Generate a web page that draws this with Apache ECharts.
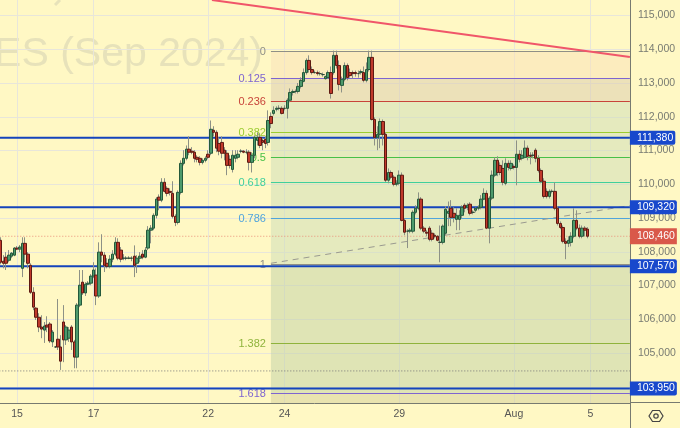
<!DOCTYPE html>
<html>
<head>
<meta charset="utf-8">
<title>RTS futures</title>
<style>
  html, body { margin: 0; padding: 0; background: #fff8c4; }
  #chart { width: 680px; height: 428px; }
</style>
</head>
<body>
<div id="chart"></div>
<script src="https://cdn.jsdelivr.net/npm/echarts@6/dist/echarts.min.js"></script>
<script>
// hourly bars
const barOpen = [
  108340,107720,107840,107750,107870,107900,108110,108080,107510,108250,
  107930,107600,106800,106330,106060,105770,105680,105830,105860,105330,
  105180,105410,105180,105920,105390,105440,105770,105330,104880,106420,
  107100,106780,107040,107070,107280,107310,106690,107990,107900,107660,
  107570,107780,107930,108280,108050,107810,107810,107810,107810,107870,
  107660,107810,107930,107840,108110,108640,108700,109080,109620,109530,
  110060,109880,109790,109730,109050,108870,109760,110620,110770,111040,
  110980,110950,110800,110770,110650,110710,110890,110920,111600,111540,
  111210,111240,111010,110920,110740,110440,110770,110800,110980,110980,
  110950,110950,110650,110860,111300,111390,111300,111330,111240,112010,
  112100,112220,112250,112250,112250,112250,112490,112720,112750,112750,
  112900,113050,113310,113670,113400,113310,113310,113280,113250,113130,
  113160,113310,113310,113820,113520,112930,113110,113520,113310,113310,
  113310,113280,113310,113310,113080,113400,113760,111920,111390,111480,
  111860,111480,110120,110350,110210,110000,110030,110270,108930,108610,
  108610,108610,109170,109290,109560,108700,108580,108700,108550,108490,
  108460,108280,108280,108550,109140,109290,109140,108960,108960,109080,
  109380,109320,109410,109170,109230,109290,109320,109560,109730,108700,
  109590,110270,110710,110560,110470,110030,110620,110470,110530,110500,
  110890,110770,110800,111070,110860,110860,111010,110770,110410,110090,
  109790,109640,109790,109790,109290,108840,108720,108310,108250,108280,
  108460,108930,108700,108460,108700,108670
];
const barClose = [
  107690,107660,107660,107900,107960,108110,108080,108140,108250,107930,
  107660,106800,106360,106060,105770,105710,105800,105770,105360,105620,
  105180,105180,104760,105390,105770,105680,105330,104880,106420,107010,
  106780,107040,107070,107280,107460,106690,107990,107900,107600,107570,
  107780,107930,108280,107810,107780,107810,107810,107810,107810,107600,
  107810,107870,107840,108050,108640,108700,109080,109560,109530,110060,
  109790,109730,109760,109050,108870,109760,110620,110770,111040,110950,
  110950,110770,110740,110650,110710,110770,110800,111630,111540,111070,
  110980,110920,110920,110560,110560,110860,110860,110890,110980,110950,
  110950,110650,110860,111390,111390,111150,111240,111210,111890,111800,
  112190,112250,112250,112100,112250,112490,112720,112750,112750,112900,
  113080,113310,113670,113400,113310,113310,113280,113280,113250,113190,
  113310,112690,113820,113520,112960,113110,113520,113160,113220,113280,
  113280,113280,113340,113080,113400,113760,111920,111390,111480,111860,
  111480,110120,110350,110210,110000,110030,110270,108930,108580,108610,
  108640,109170,109290,109560,108700,108610,108550,108370,108370,108460,
  108340,108280,108760,109260,109200,109020,109020,109080,109080,109320,
  109290,109380,109140,109170,109290,109320,109560,109730,108700,109590,
  110270,110710,110350,110350,110060,110620,110500,110620,110500,110890,
  110740,110860,111070,110830,110830,110860,110770,110410,110090,109640,
  109640,109790,109790,109290,108840,108720,108310,108250,108340,108460,
  108930,108700,108460,108700,108640,108460
];
const barLow = [
  107630,107510,107460,107690,107810,107870,108050,107990,107250,107690,
  107510,106750,106270,105980,105620,105440,105300,105620,105300,105180,
  105150,105090,104500,104730,105240,105330,105090,104550,104550,106360,
  106720,106690,107010,107010,107220,106420,106630,107690,107400,107510,
  107510,107690,107870,107750,107690,107750,107750,107780,107720,107250,
  107370,107690,107780,107810,108050,108250,108640,108990,109230,109470,
  109760,109640,109670,108990,108760,108810,109700,110560,110710,110860,
  110890,110650,110650,110560,110590,110650,110740,110860,111420,110950,
  110860,110770,110710,110270,110470,110350,110650,110740,110920,110920,
  110890,110410,110350,110770,111150,111070,111010,111070,111150,111660,
  112040,112160,112190,112070,112190,111950,112430,112630,112690,112690,
  112840,113020,113250,113310,113250,113280,113220,113220,113190,113100,
  113130,112540,113250,113430,112780,112720,113050,113080,113160,113130,
  113190,113160,113250,113020,113020,113340,111890,111150,111010,111070,
  111150,110060,110030,110150,109940,109940,109970,108900,108490,108110,
  108550,108550,109110,109230,108640,108550,108460,108310,108310,108400,
  108310,107690,108220,108490,108760,108760,108870,108640,108640,108990,
  109170,109230,109080,109110,109170,109230,109260,109530,108670,108250,
  109530,110210,110240,110270,109970,109970,110410,110410,110440,109970,
  110650,110710,110770,110710,110590,110770,110650,110350,110030,109580,
  109580,109580,109730,109230,108780,108670,108250,107780,108140,108160,
  108400,108640,108400,108400,108460,108400
];
const barHigh = [
  108430,107900,107990,108050,107990,108140,108170,108200,108430,108430,
  107990,107660,106950,106360,106180,106120,105920,106090,105920,105680,
  105210,106600,105530,106420,105830,105770,105830,105390,106480,107460,
  107460,107100,107130,107340,107690,107510,108280,108520,107990,107810,
  107900,108050,108430,108400,108140,107930,107870,107870,107870,108190,
  107900,107990,108050,108140,108760,108790,109140,109620,109700,110180,
  110180,109940,109880,110090,109110,109820,110710,111010,111150,111420,
  111100,111010,110860,110830,110770,110830,111010,111890,111720,111600,
  111390,111420,111100,111010,110860,111010,111010,111010,111040,111010,
  111040,111010,110950,111450,111540,111510,111360,111420,112190,112130,
  112310,112310,112340,112310,112340,112550,112840,112810,112810,113000,
  113170,113430,113730,113820,113490,113370,113370,113340,113310,113220,
  113370,113490,113960,113960,113670,113190,113610,113580,113430,113370,
  113370,113370,113400,113490,113610,113960,113960,111980,111720,111950,
  111920,111540,110470,110410,110270,110120,110410,110350,108990,108670,
  108700,109230,109380,109760,109620,108760,108640,108760,108640,108550,
  108490,108780,108810,109350,109490,109530,109320,109290,109230,109380,
  109440,109440,109470,109230,109320,109380,109680,109880,109820,109650,
  110410,110800,110830,110650,110710,110770,110710,110710,110590,111300,
  111010,111010,111300,111150,110950,110950,111070,110860,110470,110180,
  109880,109850,109850,110060,109350,108900,108780,108400,108460,108580,
  109290,109230,108810,108780,108760,108730
];

// axes
const slotCount = 231;
const dayTicks = [6, 34, 76, 104, 146, 188, 216];
const dayLabels = ['15', '17', '22', '24', '29', 'Aug', '5'];
const priceGrid = [104000,105000,106000,107000,108000,109000,110000,111000,112000,113000,114000,115000];
const priceLabels = [105000,106000,107000,108000,109000,110000,111000,112000,113000,114000,115000];

// fibonacci retracement
const fibNames = ['0','0.125','0.236','0.382','0.5','0.618','0.786','1','1.382','1.618'];
const fibPrices = [113934,113134,112453,111534,110794,110053,108986,107623,105283,103801];
const fibColors = ['#8f8f86','#7e64d0','#c8443a','#9ccc30','#48c048','#40cf9c','#50a4dc','#8f8f86','#8fb33c','#7e64d0'];
const fibStart = 99;

// horizontal levels with a tag on the price scale
const levelPrices = [111380, 109320, 107570, 103950];
const lastPrice = 108460;
const lowDotted = 104470;

// drawn lines: [bar index, price]
const redTrend = [[77.4, 115460], [230.5, 113770]];
const greyTrend = [[99, 107660], [230.5, 109370]];

const axisColor = '#777a70';
const gridColor = '#e8e6da';
const textFont = 'Liberation Sans';
const xMax = slotCount - 0.5;

function fmt(v) {
  return String(v).replace(/\B(?=(\d{3})+$)/g, ',');
}

function band(a, b, color) {
  return [{ coord: [fibStart, a], itemStyle: { color: color } }, { coord: [xMax, b] }];
}

const categories = barOpen.map((_, i) => i);
while (categories.length < slotCount) categories.push(categories.length);

const wickData = barOpen.map((o, i) => [o, barClose[i], barLow[i], barHigh[i]]);
const bodyData = barOpen.map((o, i) => [o, barClose[i], Math.min(o, barClose[i]), Math.max(o, barClose[i])]);

const levelSeries = levelPrices.map(p => ({
  type: 'line',
  xAxisIndex: 1,
  z: 3,
  symbol: 'none',
  silent: true,
  data: [[-0.5, p], [xMax, p]],
  lineStyle: { color: '#1444bc', width: 2 },
  endLabel: {
    show: true,
    distance: 0,
    formatter: fmt(p),
    color: '#fff',
    fontFamily: textFont,
    fontSize: 10.5,
    backgroundColor: '#1848cc',
    borderRadius: [0, 2, 2, 0],
    padding: [2, 2, 1, 7]
  }
}));

const chart = echarts.init(document.getElementById('chart'));
chart.setOption({
  animation: false,
  backgroundColor: '#fff8c4',
  textStyle: { fontFamily: textFont },
  grid: { left: -0.7, top: 0, width: 630.6, height: 403, outerBoundsMode: 'none' },
  graphic: [
    // watermark
    { type: 'text', z: 0, silent: true, style: { x: 263, y: 55, text: 'RES (Sep 2024)', align: 'right', verticalAlign: 'middle', fill: '#e7e2ba', font: '41px "Liberation Sans"' } },
    { type: 'line', z: 0, silent: true, shape: { x1: 55, y1: 5, x2: 60, y2: 0 }, style: { stroke: '#e7e2ba', lineWidth: 3 } },
    // price scale and time scale corner
    { type: 'line', z: 20, silent: true, shape: { x1: 630, y1: 402.5, x2: 680, y2: 402.5 }, style: { stroke: axisColor, lineWidth: 1 } },
    { type: 'line', z: 20, silent: true, shape: { x1: 630.5, y1: 403, x2: 630.5, y2: 428 }, style: { stroke: axisColor, lineWidth: 1 } },
    // settings button
    { type: 'polygon', z: 20, silent: true, shape: { points: [[649, 416], [652.5, 410.5], [659.5, 410.5], [663, 416], [659.5, 421.5], [652.5, 421.5]] }, style: { fill: 'none', stroke: '#444', lineWidth: 1.2 } },
    { type: 'circle', z: 20, silent: true, shape: { cx: 656, cy: 416, r: 2.2 }, style: { fill: 'none', stroke: '#444', lineWidth: 1.2 } }
  ],
  xAxis: [
    { type: 'category', data: categories, show: false, boundaryGap: true },
    {
      type: 'value',
      min: -0.5,
      max: xMax,
      position: 'bottom',
      axisLine: { show: true, onZero: false, lineStyle: { color: axisColor } },
      axisTick: { show: false, customValues: dayTicks },
      splitLine: { show: true, lineStyle: { color: gridColor } },
      axisLabel: {
        customValues: dayTicks,
        margin: 6,
        color: '#555',
        fontSize: 10.5,
        fontFamily: textFont,
        formatter: v => dayLabels[dayTicks.indexOf(v)]
      }
    }
  ],
  yAxis: {
    type: 'value',
    position: 'right',
    min: 103520,
    max: 115460,
    axisLine: { show: true, onZero: false, lineStyle: { color: axisColor } },
    axisTick: { show: false, customValues: priceGrid },
    splitLine: { show: true, lineStyle: { color: gridColor } },
    axisLabel: {
      customValues: priceLabels,
      margin: 8,
      color: '#787b72',
      fontSize: 10.5,
      fontFamily: textFont,
      formatter: v => fmt(v)
    }
  },
  series: [
    {
      // fib bands, lines and their labels
      type: 'line',
      xAxisIndex: 1,
      z: 1,
      symbol: 'none',
      silent: true,
      data: [[fibStart, fibPrices[0]]],
      markArea: {
        silent: true,
        z: 1,
        data: [
          band(fibPrices[0], fibPrices[1], 'rgba(249,224,184,0.5)'),
          band(fibPrices[1], fibPrices[2], 'rgba(217,202,174,0.5)'),
          band(fibPrices[2], fibPrices[7], 'rgba(203,220,184,0.5)'),
          band(fibPrices[7], fibPrices[9], 'rgba(191,208,166,0.5)'),
          band(fibPrices[9], 103520, 'rgba(211,206,154,0.5)')
        ]
      },
      markLine: {
        silent: true,
        z: 2,
        symbol: 'none',
        animation: false,
        data: fibPrices.map((p, i) => [
          {
            coord: [fibStart, p],
            lineStyle: { color: fibColors[i], width: 1, type: 'solid' },
            label: {
              show: true,
              position: 'start',
              formatter: fibNames[i],
              color: fibColors[i],
              fontSize: 11,
              fontFamily: textFont
            }
          },
          { coord: [xMax, p] }
        ])
      }
    },
    {
      type: 'line', xAxisIndex: 1, z: 3, symbol: 'none', silent: true,
      data: greyTrend,
      lineStyle: { color: '#9a9a90', width: 1, type: [6, 5] }
    },
    {
      type: 'line', xAxisIndex: 1, z: 3, symbol: 'none', silent: true,
      data: [[-0.5, lowDotted], [xMax, lowDotted]],
      lineStyle: { color: '#777', width: 1, type: [1, 2] }
    },
    ...levelSeries,
    {
      // last price
      type: 'line', xAxisIndex: 1, z: 3, symbol: 'none', silent: true,
      data: [[-0.5, lastPrice], [xMax, lastPrice]],
      lineStyle: { color: '#e8907a', width: 1, type: [1, 2] },
      endLabel: {
        show: true,
        distance: 0,
        formatter: fmt(lastPrice),
        color: '#fff',
        fontFamily: textFont,
        fontSize: 10.5,
        backgroundColor: '#d9584a',
        padding: [3, 2, 2, 7]
      }
    },
    {
      type: 'line', xAxisIndex: 1, z: 4, symbol: 'none', silent: true,
      data: redTrend,
      lineStyle: { color: '#f0566a', width: 2 }
    },
    {
      // wicks
      type: 'candlestick',
      z: 5,
      silent: true,
      barWidth: 1,
      data: wickData,
      itemStyle: { color: '#8d9186', color0: '#8d9186', borderColor: '#8d9186', borderColor0: '#8d9186', borderColorDoji: '#8d9186', borderWidth: 1 }
    },
    {
      // bodies
      type: 'candlestick',
      z: 6,
      silent: true,
      barWidth: 3,
      data: bodyData,
      itemStyle: { color: '#4d9a6c', color0: '#c0392b', borderColor: '#24593b', borderColor0: '#5e1a12', borderColorDoji: '#2d4a38', borderWidth: 1 }
    }
  ]
});
</script>
</body>
</html>
